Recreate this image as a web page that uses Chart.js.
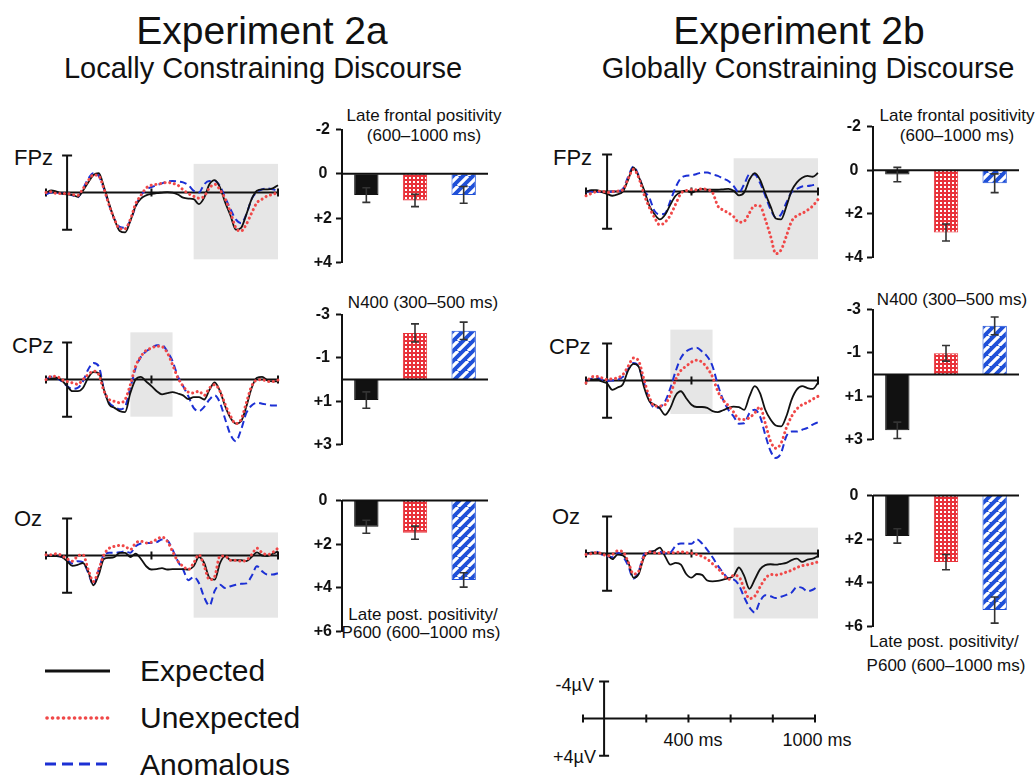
<!DOCTYPE html>
<html>
<head>
<meta charset="utf-8">
<script src="https://cdn.jsdelivr.net/npm/chart.js@4.4.1/dist/chart.umd.min.js"></script>
<style>
body { margin:0; width:1036px; height:776px; background:#fff; position:relative; overflow:hidden;
       font-family:"Liberation Sans", Arial, sans-serif; color:#111; }
canvas, svg { position:absolute; }
.c { position:absolute; white-space:nowrap; transform:translate(-50%,-50%); }
.l { position:absolute; white-space:nowrap; transform:translate(0,-50%); }
.r { position:absolute; white-space:nowrap; transform:translate(-100%,-50%); }
</style>
</head>
<body>

<div class="c" style="left:262px;top:31px;font-size:39px">Experiment 2a</div>
<div class="c" style="left:263px;top:68px;font-size:29px">Locally Constraining Discourse</div>
<div class="c" style="left:799px;top:31px;font-size:39px">Experiment 2b</div>
<div class="c" style="left:808px;top:68px;font-size:29px">Globally Constraining Discourse</div>

<div class="l" style="left:14px;top:158px;font-size:22px">FPz</div>
<div class="l" style="left:12px;top:346px;font-size:22px">CPz</div>
<div class="l" style="left:14px;top:519px;font-size:22px">Oz</div>
<div class="l" style="left:553px;top:158px;font-size:22px">FPz</div>
<div class="l" style="left:549px;top:347px;font-size:22px">CPz</div>
<div class="l" style="left:552px;top:517px;font-size:22px">Oz</div>

<div class="c" style="left:424px;top:116px;font-size:17px">Late frontal positivity</div>
<div class="c" style="left:424px;top:136px;font-size:17px">(600–1000 ms)</div>
<div class="c" style="left:423px;top:303px;font-size:17px">N400 (300–500 ms)</div>
<div class="c" style="left:423px;top:615px;font-size:17px">Late post. positivity/</div>
<div class="c" style="left:421px;top:633px;font-size:17px">P600 (600–1000 ms)</div>
<div class="c" style="left:957px;top:116px;font-size:17px">Late frontal positivity</div>
<div class="c" style="left:957px;top:136px;font-size:17px">(600–1000 ms)</div>
<div class="c" style="left:952px;top:300px;font-size:17px">N400 (300–500 ms)</div>
<div class="c" style="left:944px;top:642px;font-size:17px">Late post. positivity/</div>
<div class="c" style="left:946px;top:666px;font-size:17px">P600 (600–1000 ms)</div>

<div class="r" style="left:594px;top:685px;font-size:18px">-4µV</div>
<div class="r" style="left:596px;top:757px;font-size:18px">+4µV</div>
<div class="c" style="left:693px;top:740px;font-size:18px">400 ms</div>
<div class="c" style="left:817px;top:740px;font-size:18px">1000 ms</div>

<svg style="left:40px;top:655px" width="80" height="120">
  <line x1="5" y1="16" x2="70" y2="16" stroke="#111" stroke-width="3"/>
  <line x1="7" y1="63" x2="70" y2="63" stroke="#f04848" stroke-width="3.6" stroke-dasharray="0.1 5.4" stroke-linecap="round"/>
  <line x1="5" y1="109" x2="72" y2="109" stroke="#1c30d4" stroke-width="3" stroke-dasharray="11 6"/>
</svg>
<div class="l" style="left:140px;top:671px;font-size:30px">Expected</div>
<div class="l" style="left:140px;top:718px;font-size:30px">Unexpected</div>
<div class="l" style="left:140px;top:765px;font-size:30px">Anomalous</div>

<script>
// sample times (ms)
const times = [-100,-75,-50,-25,0,25,50,75,100,125,150,175,200,225,250,275,300,325,350,375,400,425,450,475,500,525,550,575,600,625,650,675,700,725,750,775,800,825,850,875,900,925,950,975,1000];

// Experiment 2a waveforms (µV, negative plotted up)
const fpzA_exp   = [0,-0.25,-0.1,0.1,0.2,0.25,0.45,-0.2,-1.1,-1.9,-2.1,-0.6,1.25,2.9,4.15,4.3,3.05,1.45,0.65,0.3,0.15,0.05,0,-0.05,0,0.2,0.55,0.65,0.7,1.25,0.55,-0.9,-1.35,-0.55,1.1,2.5,4.0,3.8,2.35,0.7,-0.2,-0.35,-0.35,-0.45,-0.8];
const fpzA_unexp = [0,-0.1,0.1,0.1,0.1,0.2,0.3,-0.4,-1.3,-1.9,-1.8,-0.4,1.4,2.9,3.9,3.9,2.9,1.2,0.3,-0.5,-0.8,-0.9,-1.0,-1.1,-1.0,-0.8,-0.3,0.1,0.4,0.6,0.4,-0.5,-0.9,-0.3,0.7,2.15,3.8,4.15,3.4,2.2,1.1,0.7,0.35,0.2,-0.05];
const fpzA_anom  = [0.2,0,0,0.1,0.1,0.3,0.5,-0.4,-1.5,-2.1,-1.8,-0.4,1.4,2.9,3.7,3.8,3.0,1.5,0.3,-0.3,-0.6,-0.8,-1.0,-1.2,-1.25,-1.2,-1.1,-0.8,-0.2,0,-0.9,-1.25,-1.25,-0.7,0.55,1.8,2.9,3.3,2.35,0.7,-0.05,-0.35,-0.45,-0.35,-0.2];

const cpzA_exp   = [0,-0.1,-0.2,0.1,0.7,1.25,1.25,0.9,-0.2,-0.8,-0.7,1.1,2.7,3.05,3.4,3.5,1.45,0,-0.3,0.2,0.7,1.25,1.6,1.45,1.35,1.5,1.7,2.1,1.9,1.9,2.15,1.1,0.3,1.25,2.9,4.15,4.75,4.5,2.9,0.9,-0.2,-0.3,0.1,0.2,0.2];
const cpzA_unexp = [0,-0.35,-0.35,0,0.2,0.35,0.5,0,-0.55,-0.9,-0.55,1.25,2.15,2.35,2.5,2.15,0.55,-1.45,-2.5,-3.15,-3.4,-3.6,-3.55,-2.9,-1.6,-0.2,0.7,1.35,1.45,1.25,1.7,0.9,0.55,1.25,2.7,3.95,4.75,4.3,2.5,0.7,0.05,0,0.2,0.2,0.05];
const cpzA_anom  = [0,-0.3,-0.2,0.2,0.7,1.0,0.9,0.2,-1.1,-1.8,-1.45,1.1,2.5,2.95,3.2,2.9,0.9,-1.25,-2.45,-3.05,-3.4,-3.7,-3.7,-3.05,-2.0,-0.35,0.7,1.8,3.05,3.4,2.95,2.15,1.7,2.5,4.3,5.95,6.65,5.4,3.6,2.8,2.5,2.6,2.7,2.8,2.8];

const ozA_exp    = [0,0.05,0.05,0.15,0.6,1.1,1.0,0.8,1.7,3.2,2.05,0.35,0.25,0.15,-0.3,-0.3,0.15,-0.2,0.35,1.15,1.5,1.45,1.35,1.5,1.45,1.45,1.45,1.5,1.15,0.15,0.8,2.4,2.6,0.8,0.05,0.5,0.5,0.5,0.6,0.15,-0.35,0,0.05,-0.2,-0.45];
const ozA_unexp  = [-0.1,-0.1,-0.2,0,0.35,0.6,0.05,-0.1,1.5,2.8,1.5,-0.1,-0.8,-1.0,-1.1,-1.0,-0.65,-1.35,-1.55,-1.35,-1.45,-1.75,-2.0,-1.55,-0.45,0.6,1.15,1.5,0.8,-0.1,1.15,2.6,2.25,0.05,0.05,0.5,0.5,0.6,0.5,-0.1,-0.8,-0.3,-0.1,-0.35,-0.8];
const ozA_anom   = [0,0.05,0.05,0.15,0.45,0.85,0.6,0.7,1.85,3.15,1.5,-0.1,-0.3,-0.3,-0.35,-0.45,-0.3,-1.0,-1.3,-1.35,-1.35,-1.45,-1.75,-1.65,-0.65,0.6,1.5,2.65,2.3,2.95,4.5,5.4,3.8,3.15,3.5,3.3,3.15,3.05,3.0,2.2,1.15,1.7,2.05,2.05,1.9];

// Experiment 2b waveforms
const fpzB_exp   = [0,-0.15,-0.15,0.05,0.25,0.45,0.3,0,-1.3,-2.6,-1.6,-0.2,1.5,2.45,3.0,2.5,1.4,0.45,0.05,-0.1,0.1,-0.1,-0.3,-0.2,-0.2,-0.2,-0.25,-0.3,-0.1,0.4,0.1,-1.3,-2.0,-1.3,0.2,1.6,2.9,3.0,1.6,-0.1,-1.0,-1.5,-1.7,-1.6,-2.0];
const fpzB_unexp = [0.45,0.2,0,-0.05,0.1,0,-0.05,-0.2,-1.4,-2.4,-1.5,0.3,1.7,2.8,3.6,3.3,2.55,1.35,0.2,-0.1,-0.2,-0.2,-0.3,-0.2,0.1,1.55,2.0,2.3,2.7,3.3,3.2,2.3,1.5,1.55,3.0,4.8,6.7,6.3,4.8,3.2,2.6,2.35,2.0,1.55,0.85];
const fpzB_anom  = [0,0,0.05,0.05,0.05,0,-0.05,-0.3,-1.6,-2.7,-1.7,-0.1,0.65,2.1,2.45,2.35,1.0,-0.45,-1.45,-1.7,-1.75,-1.9,-2.05,-2.05,-1.85,-1.7,-1.4,-1.15,-0.6,0.1,-0.8,-1.85,-1.85,-0.95,0.45,1.9,2.8,2.45,1.2,0.05,-0.3,-0.55,-0.6,-0.7,-0.8];

const cpzB_exp   = [0,-0.1,-0.15,0.1,0.3,1.0,0.75,0.4,-1.1,-1.8,-1.5,0.7,2.2,2.6,3.0,3.7,2.95,1.6,1.15,1.9,2.6,2.85,2.85,2.95,3.3,3.4,3.2,2.95,2.8,2.85,3.15,1.7,0.6,1.35,3.15,4.2,4.85,4.95,3.85,2.05,0.95,0.6,0.8,0.9,0.25];
const cpzB_unexp = [0.25,-0.4,-0.45,-0.3,-0.1,-0.2,-0.3,-0.65,-1.55,-2.45,-2.1,-0.1,1.75,2.75,2.75,2.6,1.5,-0.1,-1.1,-1.55,-2.0,-2.2,-2.0,-1.35,-0.4,1.15,2.1,2.7,3.4,4.15,4.2,4.0,3.5,2.85,4.6,6.55,7.3,6.75,5.1,3.85,3.05,2.6,2.35,2.0,1.7];
const cpzB_anom  = [0,-0.2,-0.3,-0.1,0.05,0,-0.1,-0.4,-1.25,-1.9,-1.5,0.25,2.05,2.95,2.85,2.25,0.8,-1.0,-2.45,-3.15,-3.45,-3.55,-3.15,-2.6,-1.55,0.45,2.05,3.15,3.85,4.65,4.6,3.5,3.15,3.85,5.85,7.6,8.35,7.8,6.0,5.5,5.5,5.3,5.1,4.75,4.5];

const ozB_exp    = [0,-0.1,-0.1,0,0.1,0.6,0.1,0.2,0.9,2.6,2.2,0.4,-0.15,-0.3,-0.65,0.3,1.2,1.0,1.2,2.2,2.6,2.2,2.3,2.9,3.0,2.95,2.8,2.65,2.4,1.5,2.4,3.8,2.8,1.7,1.25,1.15,1.2,1.1,1.0,0.7,0.55,0.9,0.65,0.55,0.25];
const ozB_unexp  = [0.1,0,-0.1,0,0.25,0.1,-0.3,-0.2,0.9,2.2,1.9,0.3,-0.2,-0.1,-0.05,-0.15,-0.1,-0.1,-0.2,-0.1,-0.05,0.1,0.3,0.6,1.1,1.6,2.2,2.8,2.35,2.5,3.8,4.85,4.6,3.6,2.7,2.25,2.3,2.2,2.0,1.8,1.5,1.3,1.2,1.05,0.9];
const ozB_anom   = [0.05,-0.1,-0.2,0.1,0.25,0.4,-0.1,0.3,1.3,2.7,1.9,0.1,-0.2,-0.25,-0.2,0,-0.1,-0.85,-1.1,-1.1,-1.05,-1.55,-1.1,-0.4,0.4,1.3,2.05,2.7,2.8,3.4,4.7,5.8,6.35,5.15,4.5,4.6,4.8,4.65,4.45,4.2,3.6,3.7,4.05,3.9,3.5];

// analysis windows (ms)
const winLate = [600, 1000];
const winN400 = [300, 500];
const panelTicks = [-100, 400, 1000];
const scaleTicks = [-100, 200, 400, 600, 800, 1000];

// bar means (µV) and error bars, order: Expected, Unexpected, Anomalous
const conditions = ['Expected', 'Unexpected', 'Anomalous'];
const lfpA  = [0.96, 1.2, 0.95],   lfpA_se  = [0.33, 0.28, 0.38];
const n400A = [0.95, -2.15, -2.25], n400A_se = [0.38, 0.42, 0.4];
const p600A = [1.2, 1.47, 3.64],   p600A_se = [0.3, 0.3, 0.33];
const lfpB  = [0.2, 2.86, 0.6],    lfpB_se  = [0.33, 0.39, 0.43];
const n400B = [2.58, -0.98, -2.25], n400B_se = [0.38, 0.36, 0.41];
const p600B = [1.85, 3.05, 5.25],  p600B_se = [0.33, 0.35, 0.6];
const ticksLfp = [-2, 0, 2, 4], ticksN400 = [-3, -1, 1, 3], ticksP600 = [0, 2, 4, 6];

Chart.defaults.font.family = '"Liberation Sans", Arial, sans-serif';
Chart.defaults.animation = false;

const RED = '#f04848', BLUE = '#1c30d4', BLACK = '#111';

function addCanvas(w, h, left, top) {
  const c = document.createElement('canvas');
  c.width = w; c.height = h;
  c.style.left = left + 'px'; c.style.top = top + 'px';
  document.body.appendChild(c);
  return c;
}

// axes, scale bar and grey window for the ERP panels
const erpAxes = {
  id: 'erpAxes',
  beforeDatasetsDraw(chart, args, o) {
    const ctx = chart.ctx, x = chart.scales.x, y = chart.scales.y;
    ctx.save();
    if (o.shade) {
      const x0 = x.getPixelForValue(o.shade.from), x1 = x.getPixelForValue(o.shade.to);
      const y0 = y.getPixelForValue(o.shade.top), y1 = y.getPixelForValue(o.shade.bottom);
      ctx.fillStyle = '#e6e6e6';
      ctx.fillRect(x0, y0, x1 - x0, y1 - y0);
    }
    ctx.strokeStyle = BLACK; ctx.lineWidth = 2;
    const yz = y.getPixelForValue(0);
    ctx.beginPath();
    ctx.moveTo(x.getPixelForValue(-100), yz); ctx.lineTo(x.getPixelForValue(1000), yz);
    o.ticks.forEach(t => {
      const px = x.getPixelForValue(t);
      ctx.moveTo(px, yz - 4); ctx.lineTo(px, yz + 4);
    });
    const x0 = x.getPixelForValue(0), ya = y.getPixelForValue(-4), yb = y.getPixelForValue(4);
    ctx.moveTo(x0, ya); ctx.lineTo(x0, yb);
    ctx.moveTo(x0 - 5, ya); ctx.lineTo(x0 + 5, ya);
    ctx.moveTo(x0 - 5, yb); ctx.lineTo(x0 + 5, yb);
    ctx.stroke();
    ctx.restore();
  }
};

function wave(vals, color, width, dash, cap) {
  return {
    data: times.map((t, i) => ({x: t, y: vals[i]})),
    borderColor: color, borderWidth: width, borderDash: dash, borderCapStyle: cap,
    pointRadius: 0, fill: false, clip: false, cubicInterpolationMode: 'monotone'
  };
}

// left = pixel of -100 ms, baseline = pixel of 0 µV
function erpPanel(left, baseline, exp, unexp, anom, shade, ticks) {
  const pad = 6, w = 232, h = 139;
  const c = addCanvas(w + 2 * pad, h + 2 * pad, left - pad, Math.round(baseline - h * 6 / 15) - pad);
  const datasets = exp ? [
    wave(unexp, RED, 3, [0.1, 4.6], 'round'),
    wave(exp, BLACK, 1.8, [], 'butt'),
    wave(anom, BLUE, 2, [7, 4], 'butt')
  ] : [];
  new Chart(c, {
    type: 'line',
    data: {datasets},
    options: {
      responsive: false,
      layout: {padding: pad},
      scales: {
        x: {type: 'linear', min: -100, max: 1000, display: false},
        y: {min: -6, max: 9, reverse: true, display: false}
      },
      plugins: {legend: {display: false}, tooltip: {enabled: false}, erpAxes: {shade, ticks}}
    },
    plugins: [erpAxes]
  });
}

// bar fill patterns
function dotPattern() {
  const c = document.createElement('canvas'); c.width = c.height = 4;
  const g = c.getContext('2d');
  g.fillStyle = '#e8323a'; g.fillRect(0, 0, 4, 4);
  g.fillStyle = '#fff'; g.fillRect(1, 1, 2, 2);
  return g.createPattern(c, 'repeat');
}
function stripePattern() {
  const s = 10, c = document.createElement('canvas'); c.width = c.height = s;
  const g = c.getContext('2d');
  g.fillStyle = '#1f50d8'; g.fillRect(0, 0, s, s);
  g.strokeStyle = '#fff'; g.lineWidth = 3.2;
  g.beginPath();
  for (let k = -1; k <= 1; k++) { g.moveTo(k * s, s); g.lineTo(k * s + s, 0); }
  g.stroke();
  return g.createPattern(c, 'repeat');
}
const fills = [BLACK, dotPattern(), stripePattern()];
const edges = [BLACK, '#e8323a', '#1f50d8'];

const barExtras = {
  id: 'barExtras',
  afterDatasetsDraw(chart) {
    const ctx = chart.ctx, y = chart.scales.y, ds = chart.data.datasets[0];
    const meta = chart.getDatasetMeta(0);
    ctx.save();
    ctx.strokeStyle = '#333'; ctx.lineWidth = 1.6;
    ctx.beginPath();
    meta.data.forEach((bar, i) => {
      const y1 = y.getPixelForValue(ds.data[i] - ds.errors[i]);
      const y2 = y.getPixelForValue(ds.data[i] + ds.errors[i]);
      ctx.moveTo(bar.x, y1); ctx.lineTo(bar.x, y2);
      ctx.moveTo(bar.x - 4, y1); ctx.lineTo(bar.x + 4, y1);
      ctx.moveTo(bar.x - 4, y2); ctx.lineTo(bar.x + 4, y2);
    });
    ctx.stroke();
    const z = y.getPixelForValue(0);
    ctx.strokeStyle = BLACK; ctx.lineWidth = 2;
    ctx.beginPath();
    ctx.moveTo(chart.chartArea.left, z); ctx.lineTo(chart.chartArea.right, z);
    ctx.stroke();
    ctx.restore();
  }
};

// chart area edges in page pixels
function barPanel(aLeft, aTop, aRight, aBottom, vals, errs, tickVals) {
  const axisW = 42, pad = 12;
  const c = addCanvas(aRight - aLeft + axisW + 2 * pad, aBottom - aTop + 2 * pad, aLeft - axisW - pad, aTop - pad);
  new Chart(c, {
    type: 'bar',
    data: {
      labels: conditions,
      datasets: [{data: vals, errors: errs, backgroundColor: fills, borderColor: edges,
                  borderWidth: 1, barPercentage: 0.5, categoryPercentage: 1}]
    },
    options: {
      responsive: false,
      layout: {padding: pad},
      scales: {
        x: {display: false},
        y: {
          min: tickVals[0], max: tickVals[tickVals.length - 1], reverse: true,
          afterBuildTicks: s => { s.ticks = tickVals.map(v => ({value: v})); },
          afterFit: s => { s.width = axisW; },
          ticks: {font: {size: 16, weight: 'bold'}, color: BLACK, padding: 4, crossAlign: 'center',
                  callback: v => (v > 0 ? '+' + v : String(v))},
          grid: {drawOnChartArea: false, drawTicks: true, tickLength: 6, tickWidth: 2, tickColor: BLACK},
          border: {display: true, color: BLACK, width: 2}
        }
      },
      plugins: {legend: {display: false}, tooltip: {enabled: false}}
    },
    plugins: [barExtras]
  });
}

// Experiment 2a
erpPanel(46, 193, fpzA_exp, fpzA_unexp, fpzA_anom, {from: winLate[0], to: winLate[1], top: -3.1, bottom: 7.2}, panelTicks);
erpPanel(46, 380, cpzA_exp, cpzA_unexp, cpzA_anom, {from: winN400[0], to: winN400[1], top: -5.1, bottom: 4.0}, panelTicks);
erpPanel(46, 556, ozA_exp, ozA_unexp, ozA_anom, {from: winLate[0], to: winLate[1], top: -2.5, bottom: 6.7}, panelTicks);
barPanel(342, 128, 488, 264, lfpA, lfpA_se, ticksLfp);
barPanel(342, 313, 488, 446, n400A, n400A_se, ticksN400);
barPanel(342, 499, 488, 633, p600A, p600A_se, ticksP600);

// Experiment 2b
erpPanel(586, 192, fpzB_exp, fpzB_unexp, fpzB_anom, {from: winLate[0], to: winLate[1], top: -3.6, bottom: 7.3}, panelTicks);
erpPanel(586, 381, cpzB_exp, cpzB_unexp, cpzB_anom, {from: winN400[0], to: winN400[1], top: -5.5, bottom: 3.6}, panelTicks);
erpPanel(586, 554, ozB_exp, ozB_unexp, ozB_anom, {from: winLate[0], to: winLate[1], top: -2.8, bottom: 7.0}, panelTicks);
barPanel(873, 125, 1019, 259, lfpB, lfpB_se, ticksLfp);
barPanel(873, 308, 1019, 441, n400B, n400B_se, ticksN400);
barPanel(873, 494, 1019, 628, p600B, p600B_se, ticksP600);

// calibration scale
erpPanel(583, 719, null, null, null, null, scaleTicks);
</script>
</body>
</html>
